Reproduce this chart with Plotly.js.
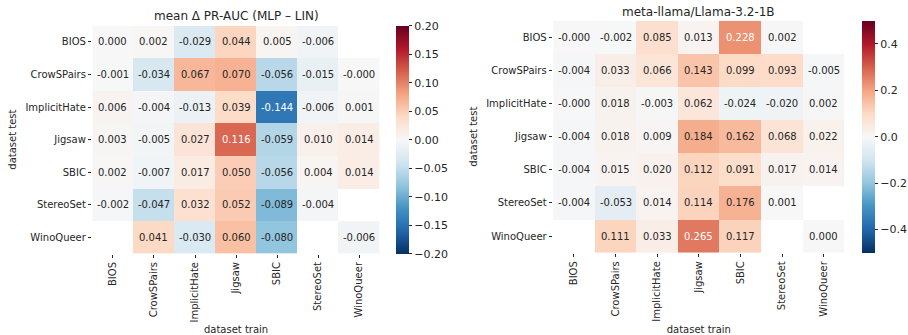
<!DOCTYPE html>
<html>
<head>
<meta charset="utf-8">
<script src="https://cdn.plot.ly/plotly-3.0.1.min.js"></script>
<style>html,body{margin:0;padding:0;background:#fff;}#chart{width:908px;height:335px;}</style>
</head>
<body>
<div id="chart"></div>
<script>
// ---- data ----
const datasets = ["BIOS", "CrowSPairs", "ImplicitHate", "Jigsaw", "SBIC", "StereoSet", "WinoQueer"];
const trainLabels = datasets;
const testLabels = datasets;

const titleLeft = "mean Δ PR-AUC (MLP – LIN)";
const titleRight = "meta-llama/Llama-3.2-1B";

// rows = dataset test, columns = dataset train
const deltaMean = [
  [0.0001, 0.002, -0.029, 0.044, 0.005, -0.006, null],
  [-0.001, -0.034, 0.067, 0.070, -0.056, -0.015, -0.0001],
  [0.006, -0.004, -0.013, 0.039, -0.144, -0.006, 0.001],
  [0.003, -0.005, 0.027, 0.116, -0.059, 0.010, 0.014],
  [0.002, -0.007, 0.017, 0.050, -0.056, 0.004, 0.014],
  [-0.002, -0.047, 0.032, 0.052, -0.089, -0.004, null],
  [null, 0.041, -0.030, 0.060, -0.080, null, -0.006]
];

const deltaLlama = [
  [-0.0001, -0.002, 0.085, 0.013, 0.228, 0.002, null],
  [-0.004, 0.033, 0.066, 0.143, 0.099, 0.093, -0.005],
  [-0.0001, 0.018, -0.003, 0.062, -0.024, -0.020, 0.002],
  [-0.004, 0.018, 0.009, 0.184, 0.162, 0.068, 0.022],
  [-0.004, 0.015, 0.020, 0.112, 0.091, 0.017, 0.014],
  [-0.004, -0.053, 0.014, 0.114, 0.176, 0.001, null],
  [null, 0.111, 0.033, 0.265, 0.117, null, 0.0001]
];

const leftTicks = [-0.20, -0.15, -0.10, -0.05, 0.00, 0.05, 0.10, 0.15, 0.20];
const rightTicks = [-0.4, -0.2, 0.0, 0.2, 0.4];

// ---- styling ----
const rdbuHex = ["#053061", "#2166ac", "#4393c3", "#92c5de", "#d1e5f0", "#f7f7f7",
                 "#fddbc7", "#f4a582", "#d6604d", "#b2182b", "#67001f"];
const colorscale = rdbuHex.map((c, i) => [i / (rdbuHex.length - 1), c]);
const TXT = "#262626";
const FONT = "DejaVu Sans";

function hexToRgb(h) {
  return [parseInt(h.slice(1, 3), 16), parseInt(h.slice(3, 5), 16), parseInt(h.slice(5, 7), 16)];
}
function colorAt(t) {
  t = Math.max(0, Math.min(1, t));
  const n = rdbuHex.length - 1;
  const i = Math.min(n - 1, Math.floor(t * n));
  const f = t * n - i;
  const a = hexToRgb(rdbuHex[i]), b = hexToRgb(rdbuHex[i + 1]);
  return a.map((v, k) => v + (b[k] - v) * f);
}
function luminance(rgb) {
  const lin = rgb.map(v => { v /= 255; return v <= 0.03928 ? v / 12.92 : Math.pow((v + 0.055) / 1.055, 2.4); });
  return 0.2126 * lin[0] + 0.7152 * lin[1] + 0.0722 * lin[2];
}

function annots(z, xr, yr, zmin, zmax) {
  const out = [];
  z.forEach((row, r) => row.forEach((v, c) => {
    if (v === null) return;
    const lum = luminance(colorAt((v - zmin) / (zmax - zmin)));
    out.push({
      x: trainLabels[c], y: testLabels[r], xref: xr, yref: yr,
      text: v.toFixed(3), showarrow: false,
      font: {family: FONT, size: 10, color: lum > 0.408 ? TXT : "#ffffff"}
    });
  }));
  return out;
}

function cbar(x, y, len, ticks, fmt) {
  return {
    x: x, xanchor: "left", y: y, yanchor: "top", len: len, lenmode: "fraction",
    thickness: 13, thicknessmode: "pixels", xpad: 0, ypad: 0,
    outlinewidth: 0, borderwidth: 0,
    tickmode: "array", tickvals: ticks, ticktext: ticks.map(v => (v < 0 ? "\u2212" : "") + Math.abs(v).toFixed(fmt)),
    ticks: "outside", ticklen: 3.5, tickwidth: 1, tickcolor: TXT,
    tickfont: {family: FONT, size: 11, color: TXT}
  };
}

const W = 908, H = 335;
const traces = [
  {
    type: "heatmap", x: trainLabels, y: testLabels, z: deltaMean,
    xaxis: "x", yaxis: "y", colorscale: colorscale, zmin: -0.2, zmax: 0.2,
    hoverongaps: false, xgap: 0, ygap: 0,
    colorbar: cbar(397.7 / W, 1 - 25.7 / H, (253.5 - 25.7) / H, leftTicks, 2)
  },
  {
    type: "heatmap", x: trainLabels, y: testLabels, z: deltaLlama,
    xaxis: "x2", yaxis: "y2", colorscale: colorscale, zmin: -0.5, zmax: 0.5,
    hoverongaps: false, xgap: 0, ygap: 0,
    colorbar: cbar(865 / W, 1 - 20.7 / H, (252.7 - 20.7) / H, rightTicks, 1)
  }
];

function xax(domain, anchor) {
  return {
    domain: domain, anchor: anchor, type: "category", tickangle: -90,
    showgrid: false, zeroline: false, showline: false,
    ticks: "outside", ticklen: 3.5, tickwidth: 1, tickcolor: TXT,
    tickfont: {family: FONT, size: 10, color: TXT},
    title: {text: "dataset train", font: {family: FONT, size: 10, color: TXT}, standoff: 8}
  };
}
function yax(domain, anchor) {
  return {
    domain: domain, anchor: anchor, type: "category", autorange: "reversed",
    showgrid: false, zeroline: false, showline: false,
    ticks: "outside", ticklen: 3.5, tickwidth: 1, tickcolor: TXT,
    tickfont: {family: FONT, size: 10, color: TXT},
    title: {text: "dataset test", font: {family: FONT, size: 10, color: TXT}, standoff: 6}
  };
}

const layout = {
  width: W, height: H,
  margin: {l: 0, r: 0, t: 0, b: 0},
  paper_bgcolor: "#ffffff", plot_bgcolor: "#ffffff",
  font: {family: FONT, color: TXT, size: 10},
  showlegend: false,
  xaxis: xax([92.7 / W, 381 / W], "y"),
  yaxis: yax([1 - 253.5 / H, 1 - 25.7 / H], "x"),
  xaxis2: xax([555 / W, 847.3 / W], "y2"),
  yaxis2: yax([1 - 252.7 / H, 1 - 20.7 / H], "x2"),
  annotations: annots(deltaMean, "x", "y", -0.2, 0.2)
    .concat(annots(deltaLlama, "x2", "y2", -0.5, 0.5))
    .concat([
      {text: titleLeft, xref: "paper", yref: "paper", x: (92.7 + 381) / 2 / W, y: 1 - 16 / H,
       xanchor: "center", yanchor: "middle", showarrow: false, font: {family: FONT, size: 12, color: TXT}},
      {text: titleRight, xref: "paper", yref: "paper", x: (555 + 847.3) / 2 / W, y: 1 - 12 / H,
       xanchor: "center", yanchor: "middle", showarrow: false, font: {family: FONT, size: 12, color: TXT}}
    ])
};

Plotly.newPlot("chart", traces, layout, {displayModeBar: false, staticPlot: true});
</script>
</body>
</html>
